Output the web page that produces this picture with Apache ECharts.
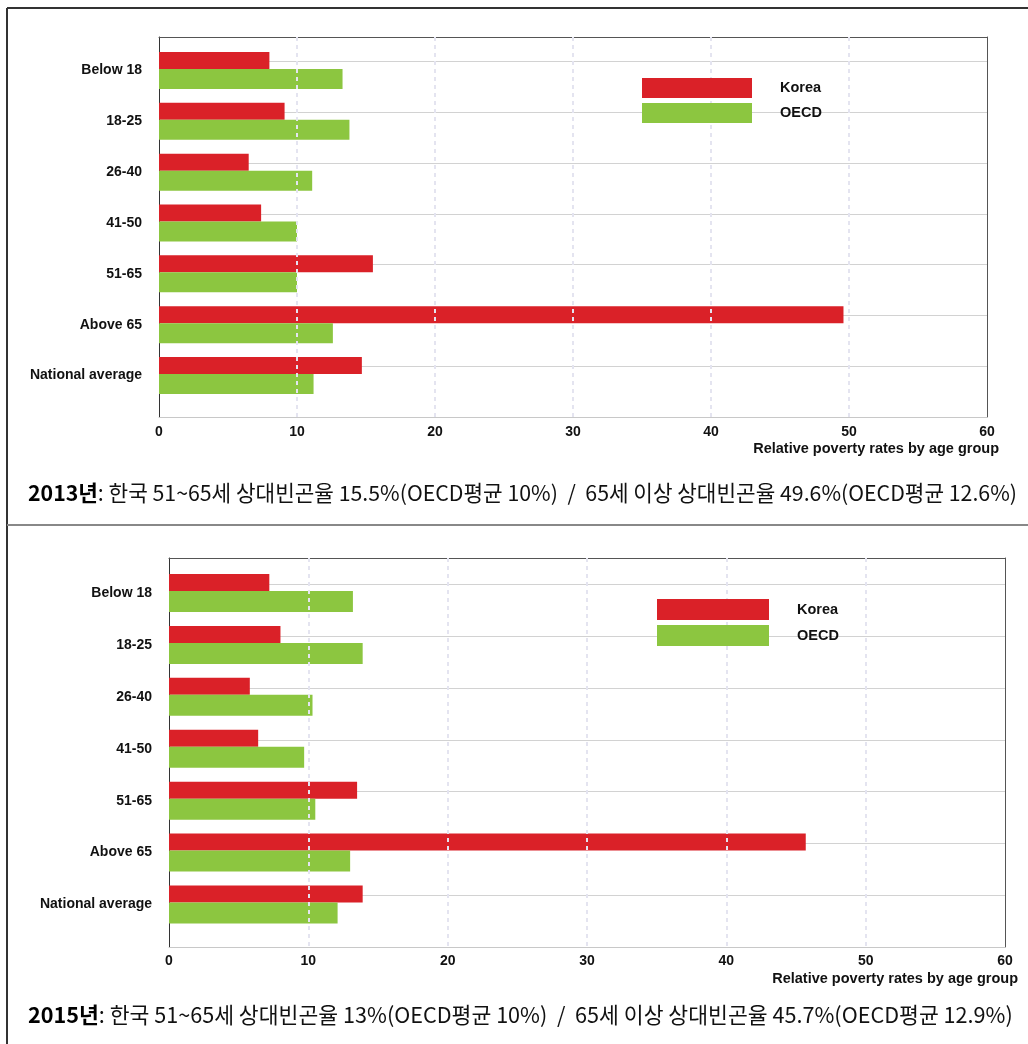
<!DOCTYPE html>
<html>
<head>
<meta charset="utf-8">
<script src="https://cdn.jsdelivr.net/npm/echarts@6/dist/echarts.min.js"></script>
<style>
html,body{margin:0;padding:0;background:#fff;}
#chart{width:1028px;height:1044px;}
</style>
</head>
<body>
<div id="chart"></div>
<script>
// ---- data ----
var categories = ['Below 18', '18-25', '26-40', '41-50', '51-65', 'Above 65', 'National average'];
var seriesNames = ['Korea', 'OECD'];
var korea2013 = [8.0, 9.1, 6.5, 7.4, 15.5, 49.6, 14.7];
var oecd2013  = [13.3, 13.8, 11.1, 10.0, 10.0, 12.6, 11.2];
var korea2015 = [7.2, 8.0, 5.8, 6.4, 13.5, 45.7, 13.9];
var oecd2015  = [13.2, 13.9, 10.3, 9.7, 10.5, 13.0, 12.1];
var xMin = 0, xMax = 60, xInterval = 10;
var axisTitle = 'Relative poverty rates by age group';
var caption2013Bold = '2013년';
var caption2013 = ': 한국 51~65세 상대빈곤율 15.5%(OECD평균 10%)  /  65세 이상 상대빈곤율 49.6%(OECD평균 12.6%)';
var caption2015Bold = '2015년';
var caption2015 = ': 한국 51~65세 상대빈곤율 13%(OECD평균 10%)  /  65세 이상 상대빈곤율 45.7%(OECD평균 12.9%)';

var RED = '#da2128', GREEN = '#8cc640';
var LABEL_FONT = 'Liberation Sans, Arial, sans-serif';
var KR_FONT = '"Noto Sans CJK KR", sans-serif';

var chart = echarts.init(document.getElementById('chart'), null, {renderer: 'canvas'});

function frameAxesX(gridIndex, labelMargin) {
  return [
    { type: 'value', gridIndex: gridIndex, min: xMin, max: xMax, interval: xInterval, position: 'bottom', z: 3,
      axisLine: {show: true, onZero: false, lineStyle: {color: '#c8c8c8', width: 1}},
      axisTick: {show: false},
      axisLabel: {show: true, color: '#111', fontSize: 14, fontWeight: 'bold', fontFamily: LABEL_FONT, margin: labelMargin},
      splitLine: {show: true, showMinLine: false, showMaxLine: false, lineStyle: {color: '#e4e4f0', width: 2, type: [4, 4]}}
    },
    { type: 'value', gridIndex: gridIndex, min: xMin, max: xMax, interval: xInterval, position: 'top',
      axisLine: {show: true, onZero: false, lineStyle: {color: '#555', width: 1}},
      axisTick: {show: false}, axisLabel: {show: false}, splitLine: {show: false}
    }
  ];
}
function frameAxesY(gridIndex, maxVal) {
  return [
    { type: 'value', gridIndex: gridIndex, min: 0, max: maxVal, interval: 1, position: 'left',
      axisLine: {show: true, onZero: false, lineStyle: {color: '#333', width: 1}},
      axisTick: {show: false}, axisLabel: {show: false},
      splitLine: {show: true, showMinLine: false, showMaxLine: false, lineStyle: {color: '#d2d2d2', width: 1}}
    },
    { type: 'value', gridIndex: gridIndex, min: 0, max: maxVal, interval: 1, position: 'right',
      axisLine: {show: true, onZero: false, lineStyle: {color: '#555', width: 1}},
      axisTick: {show: false}, axisLabel: {show: false}, splitLine: {show: false}
    }
  ];
}
function barAxisX(gridIndex) {
  return { type: 'value', gridIndex: gridIndex, min: xMin, max: xMax, show: false };
}
function barAxisY(gridIndex) {
  return { type: 'category', gridIndex: gridIndex, data: categories, inverse: true,
    axisLine: {show: false}, axisTick: {show: false}, splitLine: {show: false},
    axisLabel: {color: '#111', fontSize: 14, fontWeight: 'bold', fontFamily: LABEL_FONT, margin: 17}
  };
}

var legendCommon = {
  orient: 'vertical', icon: 'rect', itemGap: 5, data: seriesNames, selectedMode: false, padding: 0, z: 10,
  textStyle: {color: '#111', fontSize: 14.5, fontWeight: 'bold', fontFamily: LABEL_FONT, padding: [0, 0, 0, 23]}
};

function captionTitle(top, boldText, text, size) {
  return { left: 28, top: top, padding: 0,
    text: '{b|' + boldText + '}{r|' + text + '}',
    textStyle: { rich: {
      b: {fontFamily: KR_FONT, fontSize: size, fontWeight: 'bold', color: '#000', lineHeight: 28},
      r: {fontFamily: KR_FONT, fontSize: size, fontWeight: 'normal', color: '#111', lineHeight: 28}
    }}
  };
}

var option = {
  animation: false,
  backgroundColor: '#fff',
  title: [
    captionTitle(479, caption2013Bold, caption2013, 21.3),
    captionTitle(1001, caption2015Bold, caption2015, 21.6)
  ],
  legend: [
    Object.assign({}, legendCommon, {left: 642, top: 78, itemWidth: 110, itemHeight: 20}),
    Object.assign({}, legendCommon, {left: 657, top: 599, itemWidth: 112, itemHeight: 21})
  ],
  grid: [
    {left: 159, right: 41, top: 37, bottom: 627},
    {left: 159, right: 41, top: 45.1, bottom: 643.1},
    {left: 169, right: 23, top: 558, bottom: 97},
    {left: 169, right: 23, top: 567, bottom: 113.5}
  ],
  xAxis: [].concat(frameAxesX(0, 8), [barAxisX(1)], frameAxesX(2, 7), [barAxisX(3)]),
  yAxis: [].concat(frameAxesY(0, 380 / 50.8), [barAxisY(1)], frameAxesY(2, 389 / 51.8), [barAxisY(3)]),
  series: [
    {name: 'Korea', type: 'bar', xAxisIndex: 2, yAxisIndex: 2, data: korea2013, barWidth: 17, barGap: '0%', itemStyle: {color: RED}},
    {name: 'OECD',  type: 'bar', xAxisIndex: 2, yAxisIndex: 2, data: oecd2013,  barWidth: 20, barGap: '0%', itemStyle: {color: GREEN}},
    {name: 'Korea', type: 'bar', xAxisIndex: 5, yAxisIndex: 5, data: korea2015, barWidth: 17, barGap: '0%', itemStyle: {color: RED}},
    {name: 'OECD',  type: 'bar', xAxisIndex: 5, yAxisIndex: 5, data: oecd2015,  barWidth: 21, barGap: '0%', itemStyle: {color: GREEN}}
  ],
  graphic: [
    {type: 'line', shape: {x1: 7, y1: 8, x2: 1028, y2: 8}, style: {stroke: '#333', lineWidth: 2}},
    {type: 'line', shape: {x1: 7, y1: 8, x2: 7, y2: 1044}, style: {stroke: '#333', lineWidth: 2}},
    {type: 'line', shape: {x1: 7, y1: 525, x2: 1028, y2: 525}, style: {stroke: '#888', lineWidth: 2}},
    {type: 'text', right: 29, top: 441, style: {text: axisTitle, fill: '#111', font: 'bold 14.5px ' + LABEL_FONT}},
    {type: 'text', right: 10, top: 971, style: {text: axisTitle, fill: '#111', font: 'bold 14.5px ' + LABEL_FONT}}
  ]
};
chart.setOption(option);
</script>
</body>
</html>
